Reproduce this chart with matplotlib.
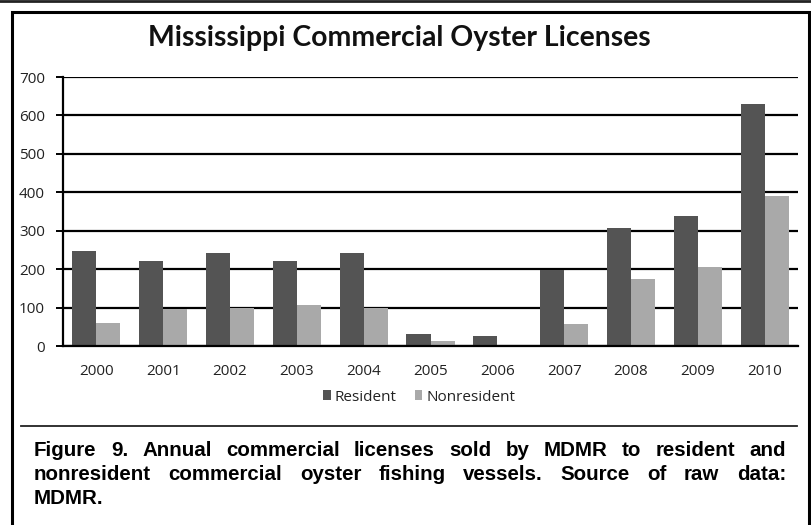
import matplotlib
matplotlib.use('Agg')

import numpy as np
import matplotlib.pyplot as plt
from matplotlib.lines import Line2D
from matplotlib.patches import Rectangle

years = ['2000', '2001', '2002', '2003', '2004', '2005', '2006', '2007', '2008', '2009', '2010']
resident = [246, 222, 241, 222, 241, 30, 26, 198, 306, 339, 629]
nonresident = [61, 96, 100, 107, 100, 13, 2, 58, 174, 206, 391]

title = 'Mississippi Commercial Oyster Licenses'
caption_lines = [
    'Figure 9. Annual commercial licenses sold by MDMR to resident and',
    'nonresident commercial oyster fishing vessels. Source of raw data:',
    'MDMR.',
]

W, H = 811, 525
fig = plt.figure(figsize=(W / 100, H / 100), dpi=100)
fig.patch.set_facecolor('white')


def fx(px):
    return px / W


def fy(py):
    return 1 - py / H


ax = fig.add_axes([fx(63), fy(346), fx(798) - fx(63), fy(77) - fy(346)])
x = np.arange(len(years))
w = 0.36
ax.bar(x - w / 2, resident, w, color='#545454', label='Resident', zorder=3)
ax.bar(x + w / 2, nonresident, w, color='#a9a9a9', label='Nonresident', zorder=3)

ax.set_xlim(-0.5, len(years) - 0.5)
ax.set_ylim(0, 700)
ax.set_yticks(range(0, 701, 100))
ax.set_xticks(x)
ax.set_xticklabels(years)
ax.grid(axis='y', color='black', linewidth=1.6, zorder=1)
ax.set_axisbelow(True)
for s in ['top', 'right']:
    ax.spines[s].set_visible(False)
ax.spines['left'].set_linewidth(1.6)
ax.spines['bottom'].set_linewidth(1.6)
ax.spines['bottom'].set_zorder(4)
ax.tick_params(axis='x', length=0, pad=13, labelsize=11, labelcolor='#222222')
ax.tick_params(axis='y', length=5, width=1.4, pad=8, labelsize=11, labelcolor='#222222')
for lab in ax.get_xticklabels() + ax.get_yticklabels():
    lab.set_fontfamily('Open Sans')

leg = ax.legend(loc='center', bbox_to_anchor=(fx(419 - 63) / (fx(798) - fx(63)), -0.19),
                ncol=2, frameon=False, handlelength=0.5, handleheight=0.6,
                handletextpad=0.25, columnspacing=1.2,
                prop={'family': 'Open Sans', 'size': 11})
for t in leg.get_texts():
    t.set_color('#222222')

fig.text(fx(399), fy(38), title, ha='center', va='center',
         fontsize=20.4, fontweight='bold', family='Lato', color='#111111')

# outer frame and separator
fig.add_artist(Line2D([0, 1], [fy(1), fy(1)], transform=fig.transFigure, color='#222222', lw=2))
fig.add_artist(Rectangle((fx(12), fy(530)), fx(809) - fx(12), fy(12) - fy(530),
                         transform=fig.transFigure, fill=False, edgecolor='black', lw=2.2))
fig.add_artist(Line2D([fx(21), fx(797)], [fy(426), fy(426)], transform=fig.transFigure,
                      color='#222222', lw=1.3))

# justified caption
renderer = fig.canvas.get_renderer()
x0, x1 = fx(34), fx(786)
baselines = [456, 480, 504.5]
for i, line in enumerate(caption_lines):
    words = line.split(' ')
    props = dict(fontsize=14.8, fontweight='bold', family='Liberation Sans', color='black',
                 va='baseline', ha='left')
    if i == len(caption_lines) - 1:
        fig.text(x0, fy(baselines[i]), line, **props)
        continue
    texts = [fig.text(0, fy(baselines[i]), wd, **props) for wd in words]
    widths = [t.get_window_extent(renderer).width / W for t in texts]
    gap = (x1 - x0 - sum(widths)) / (len(words) - 1)
    pos = x0
    for t, wd in zip(texts, widths):
        t.set_x(pos)
        pos += wd + gap

fig.savefig('out.png', dpi=100)
